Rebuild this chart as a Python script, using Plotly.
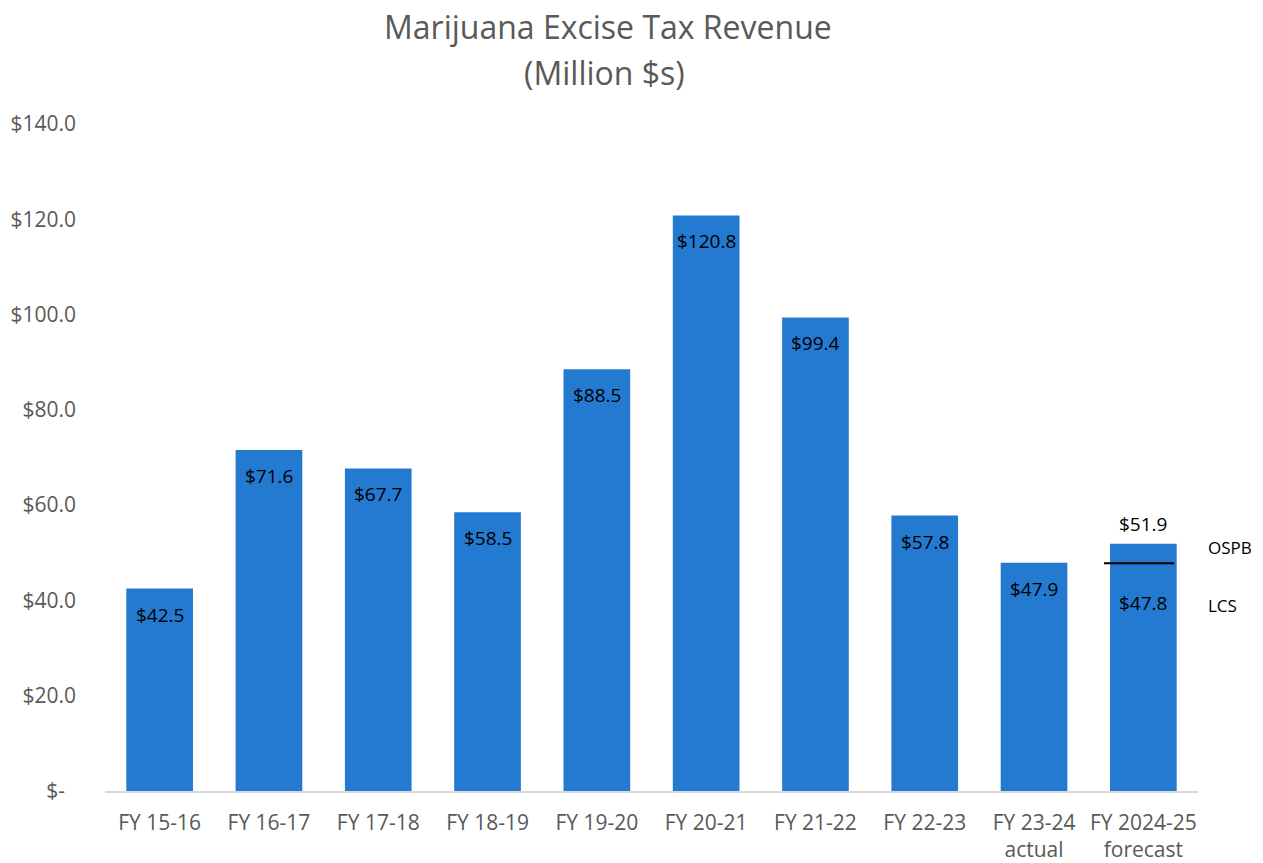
import plotly.graph_objects as go

categories = ["FY 15-16", "FY 16-17", "FY 17-18", "FY 18-19", "FY 19-20",
              "FY 20-21", "FY 21-22", "FY 22-23", "FY 23-24<br>actual", "FY 2024-25<br>forecast"]
revenue = [42.5, 71.6, 67.7, 58.5, 88.5, 120.8, 99.4, 57.8, 47.9, 51.9]
lcs_forecast = 47.8
ytick_vals = [0, 20, 40, 60, 80, 100, 120, 140]
ytick_text = ["$-\u00a0\u00a0", "$20.0", "$40.0", "$60.0", "$80.0", "$100.0", "$120.0", "$140.0"]
title_lines = ["Marijuana Excise Tax Revenue", "(Million $s)"]

FONT = "Open Sans"
GREY = "#595959"
BLUE = "#2479d1"

xs = list(range(len(categories)))

fig = go.Figure()
fig.add_trace(go.Bar(x=xs, y=revenue, width=0.61, marker=dict(color=BLUE, line=dict(width=0)),
                     hoverinfo="skip"))

# LCS forecast line on last bar
last = xs[-1]
fig.add_trace(go.Scatter(x=[last - 0.36, last + 0.28], y=[lcs_forecast, lcs_forecast], mode="lines",
                         line=dict(color="black", width=2), hoverinfo="skip"))

annotations = []
for i, v in enumerate(revenue):
    if i == len(revenue) - 1:
        annotations.append(dict(x=i, y=v, text=f"${v:.1f}", showarrow=False, yshift=20,
                                font=dict(size=19, color="black", family=FONT)))
    else:
        annotations.append(dict(x=i, y=v, text=f"${v:.1f}", showarrow=False, yshift=-26,
                                font=dict(size=19, color="black", family=FONT)))
annotations.append(dict(x=last, y=lcs_forecast, text=f"${lcs_forecast:.1f}", showarrow=False, yshift=-40,
                        font=dict(size=19, color="black", family=FONT)))
annotations.append(dict(xref="paper", x=1.0075, y=revenue[-1], text="OSPB", showarrow=False,
                        xanchor="left", yshift=-4, font=dict(size=17, color="black", family=FONT)))
annotations.append(dict(xref="paper", x=1.0075, y=lcs_forecast, text="LCS", showarrow=False,
                        xanchor="left", yshift=-42, font=dict(size=17, color="black", family=FONT)))

# title (two lines)
plot_top, plot_bottom = 124, 791
for line, ypx, xpx in zip(title_lines, [26, 73], [607.5, 604]):
    annotations.append(dict(xref="paper", yref="paper",
                            x=(xpx - 105) / (1198 - 105), y=(plot_bottom - ypx) / (plot_bottom - plot_top),
                            text=line, showarrow=False, xanchor="center", yanchor="middle",
                            font=dict(size=32, color=GREY, family=FONT)))

fig.update_layout(
    width=1263, height=863,
    margin=dict(l=105, r=65, t=124, b=72),
    paper_bgcolor="white", plot_bgcolor="white",
    showlegend=False,
    annotations=annotations,
    font=dict(family=FONT, color=GREY),
)
fig.update_xaxes(tickvals=xs, ticktext=categories, range=[-0.5, len(categories) - 0.5],
                 showline=True, linecolor="#d9d9d9", linewidth=1.5, showgrid=False, ticks="",
                 ticklabelstandoff=12, automargin=False,
                 tickfont=dict(size=21, color=GREY, family=FONT), zeroline=False)
fig.update_yaxes(range=[0, 140], tickvals=ytick_vals, ticktext=ytick_text, showgrid=False,
                 zeroline=False, showline=False, ticks="", ticklabelstandoff=28, automargin=False,
                 tickfont=dict(size=21, color=GREY, family=FONT))

fig.write_html("out.html")
